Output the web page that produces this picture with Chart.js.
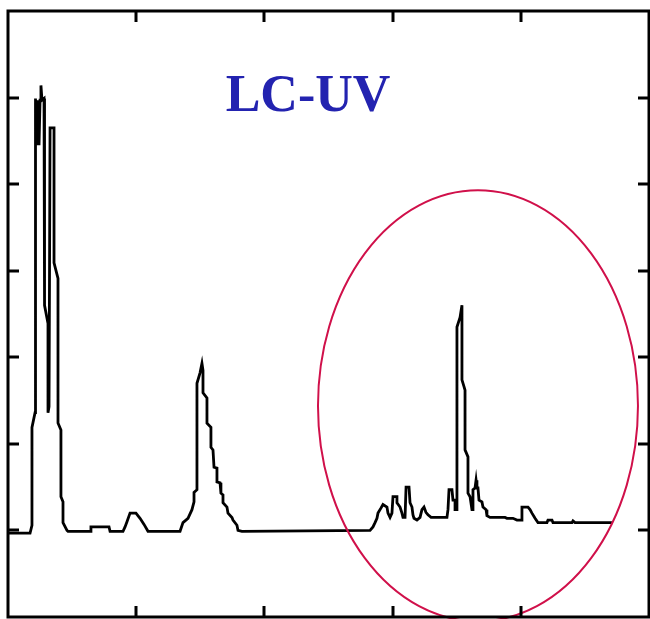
<!DOCTYPE html>
<html>
<head>
<meta charset="utf-8">
<script src="https://cdn.jsdelivr.net/npm/chart.js@4"></script>
<style>
  body { margin: 0; background: #fff; }
  #chart { display: block; }
</style>
</head>
<body>
<canvas id="chart" width="650" height="619"></canvas>
<script>
// retention time (min) and UV response
const rtTime = [
  0, 1.72, 1.87, 1.87, 2.11, 2.11, 2.18, 2.26, 2.34, 2.42, 2.50, 2.57, 2.65, 2.81, 2.85, 2.85,
  3.12, 3.12, 3.20, 3.28, 3.59, 3.59, 3.90, 3.90, 4.13, 4.13, 4.29, 4.29, 4.60, 4.68,
  6.40, 6.47, 7.88, 7.96, 8.97, 9.13, 9.28, 9.52, 9.98, 10.30, 10.61, 10.92,
  13.42, 13.65, 14.04, 14.35, 14.51, 14.51, 14.74, 14.74, 14.98, 15.13, 15.21, 15.21,
  15.52, 15.52, 15.83, 15.83, 15.99, 16.07, 16.30, 16.30, 16.54, 16.61, 16.77, 16.77,
  17.08, 17.16, 17.47, 17.55, 17.86, 17.94, 18.25,
  28.24, 28.47, 28.63, 28.78, 28.86, 29.10, 29.25, 29.56, 29.64, 29.80, 29.95, 30.03,
  30.34, 30.34, 30.58, 30.73, 30.81, 30.97, 31.05, 31.28, 31.36, 31.51, 31.59, 31.67,
  31.90, 32.14, 32.29, 32.45, 32.60, 32.76, 33.00, 34.24, 34.32, 34.40, 34.63, 34.71,
  34.87, 34.87, 35.02, 35.02, 35.26, 35.41, 35.41, 35.57, 35.65, 35.65, 35.88, 35.88,
  36.04, 36.19, 36.27, 36.27, 36.43, 36.51, 36.58, 36.66, 36.74, 36.97, 37.05, 37.29,
  37.36, 37.60, 38.77, 38.92, 39.39, 39.70, 40.09, 40.09, 40.56, 40.72, 40.87, 41.11,
  41.34, 42.04, 42.12, 42.43, 42.51, 43.99, 44.07, 44.23, 47.11
];
const uvSignal = [
  0.97, 0.97, 1.06, 2.19, 2.36, 5.99, 5.97, 5.45, 5.97, 5.45, 5.97, 6.14, 5.97, 5.99, 5.91, 3.60,
  3.39, 2.36, 2.43, 5.65, 5.65, 4.09, 3.91, 2.24, 2.16, 1.39, 1.33, 1.09, 1.00, 0.99,
  0.99, 1.04, 1.04, 0.99, 0.99, 1.04, 1.10, 1.20, 1.20, 1.14, 1.07, 0.99,
  0.99, 1.09, 1.14, 1.24, 1.33, 1.44, 1.47, 2.70, 2.82, 2.93, 2.85, 2.59,
  2.53, 2.24, 2.19, 1.96, 1.93, 1.73, 1.72, 1.56, 1.55, 1.43, 1.41, 1.32,
  1.27, 1.20, 1.15, 1.12, 1.06, 1.00, 0.99,
  1.00, 1.04, 1.09, 1.14, 1.20, 1.26, 1.30, 1.27, 1.20, 1.15, 1.20, 1.39,
  1.39, 1.32, 1.27, 1.20, 1.15, 1.15, 1.50, 1.50, 1.32, 1.27, 1.18, 1.14,
  1.12, 1.15, 1.24, 1.27, 1.21, 1.18, 1.15, 1.15, 1.24, 1.47, 1.47, 1.35,
  1.35, 1.24, 1.24, 3.35, 3.46, 3.60, 2.74, 2.66, 2.62, 1.93, 1.85, 1.43,
  1.39, 1.24, 1.24, 1.47, 1.49, 1.58, 1.49, 1.49, 1.35, 1.33, 1.27, 1.24,
  1.17, 1.15, 1.15, 1.14, 1.14, 1.12, 1.12, 1.27, 1.27, 1.24, 1.20, 1.14,
  1.09, 1.09, 1.12, 1.12, 1.09, 1.09, 1.11, 1.09, 1.09
];

const xTicks = [10, 20, 30, 40];
const yTicks = [1, 2, 3, 4, 5, 6];
const titleText = "LC-UV";
const titleAt = [23.4, 6.0];
// highlighted region (centre x, centre y, half width, half height) in data units
const circled = [36.66, 2.44, 12.48, 2.49];

const points = rtTime.map((t, i) => ({x: t, y: uvSignal[i]}));

const framePlugin = {
  id: "frame",
  afterDatasetsDraw(chart) {
    const {ctx, chartArea: a, scales: {x, y}} = chart;
    ctx.save();
    // red ellipse
    ctx.strokeStyle = "#d0104a";
    ctx.lineWidth = 2;
    ctx.beginPath();
    const cx = x.getPixelForValue(circled[0]);
    const cy = y.getPixelForValue(circled[1]);
    const rx = x.getPixelForValue(circled[0] + circled[2]) - cx;
    const ry = cy - y.getPixelForValue(circled[1] + circled[3]);
    ctx.ellipse(cx, cy, rx, ry, 0, 0, Math.PI * 2);
    ctx.stroke();

    // title
    ctx.fillStyle = "#2323b0";
    ctx.font = "bold 52px 'Liberation Serif', 'Times New Roman', serif";
    ctx.textAlign = "center";
    ctx.textBaseline = "middle";
    ctx.fillText(titleText, x.getPixelForValue(titleAt[0]), y.getPixelForValue(titleAt[1]));

    // frame + inward ticks
    ctx.strokeStyle = "#000";
    ctx.lineWidth = 3;
    ctx.strokeRect(a.left, a.top, a.right - a.left, a.bottom - a.top);
    const len = 11;
    ctx.beginPath();
    xTicks.forEach(v => {
      const px = Math.round(x.getPixelForValue(v));
      ctx.moveTo(px, a.bottom); ctx.lineTo(px, a.bottom - len);
      ctx.moveTo(px, a.top); ctx.lineTo(px, a.top + len);
    });
    yTicks.forEach(v => {
      const py = Math.round(y.getPixelForValue(v));
      ctx.moveTo(a.left, py); ctx.lineTo(a.left + len, py);
      ctx.moveTo(a.right, py); ctx.lineTo(a.right - len, py);
    });
    ctx.stroke();
    ctx.restore();
  }
};

new Chart(document.getElementById("chart").getContext("2d"), {
  type: "scatter",
  data: {
    datasets: [{
      data: points,
      showLine: true,
      borderColor: "#000",
      borderWidth: 2.8,
      borderJoinStyle: "miter",
      pointRadius: 0,
      tension: 0,
      fill: false
    }]
  },
  options: {
    responsive: false,
    animation: false,
    layout: { padding: { left: 8, right: 1, top: 11, bottom: 2 } },
    scales: {
      x: { type: "linear", min: 0, max: 50, display: false },
      y: { type: "linear", min: 0, max: 7, display: false }
    },
    plugins: {
      legend: { display: false },
      tooltip: { enabled: false }
    }
  },
  plugins: [framePlugin]
});
</script>
</body>
</html>
